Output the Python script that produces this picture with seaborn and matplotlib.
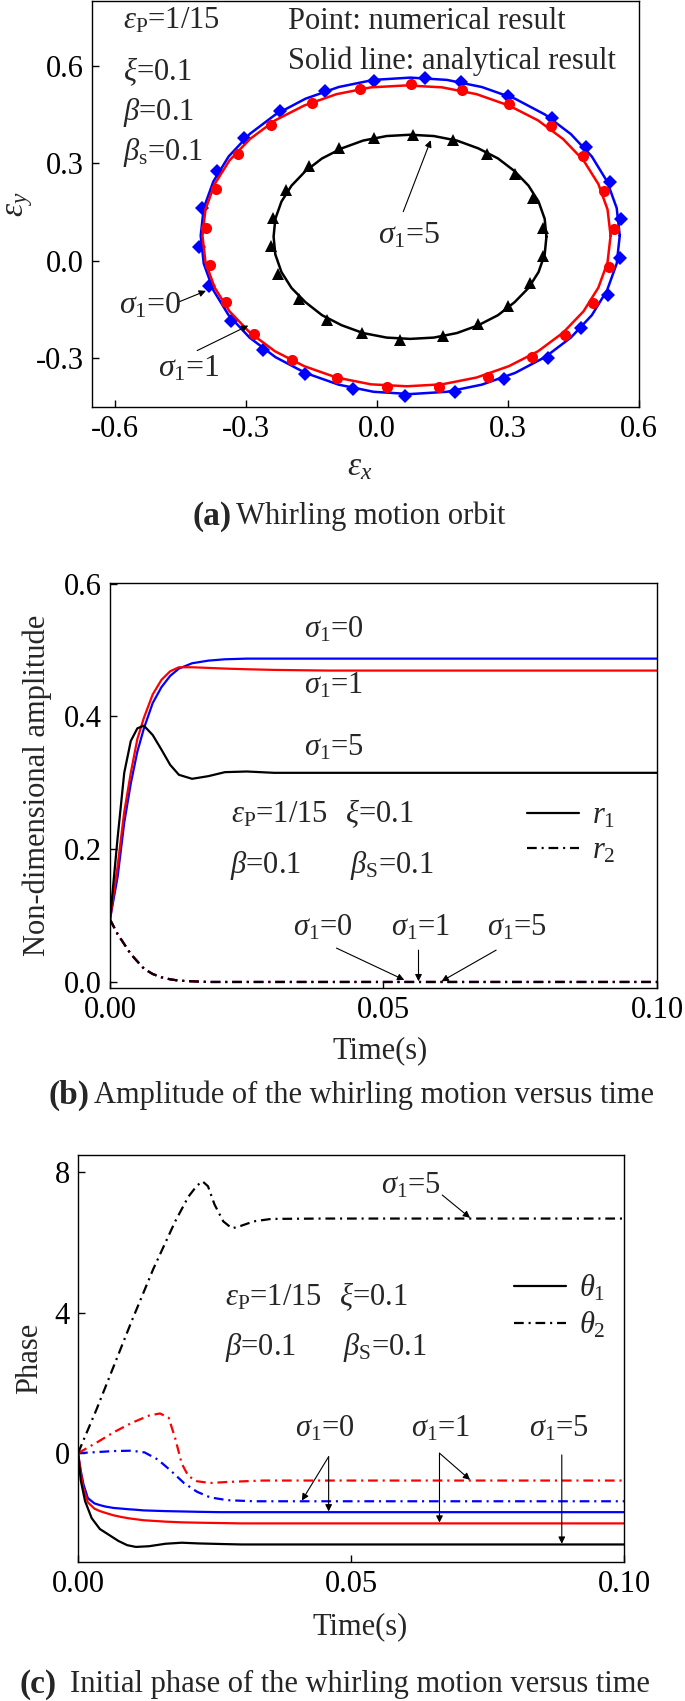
import numpy as np
import pandas as pd
import matplotlib
matplotlib.use("Agg")
import matplotlib.pyplot as plt
from matplotlib.lines import Line2D
import seaborn as sns

# ---------------- data ----------------
# (a) orbit, numerical points (epsilon_x, epsilon_y)
orbit0_x = [0.110, 0.193, 0.301, 0.401, 0.478, 0.533, 0.558, 0.556, 0.528, 0.468, 0.391, 0.291, 0.178,
            0.063, -0.055, -0.165, -0.262, -0.335, -0.384, -0.407, -0.402, -0.367, -0.305, -0.222, -0.120, -0.007]
orbit0_y = [0.564, 0.552, 0.507, 0.441, 0.350, 0.243, 0.127, 0.009, -0.106, -0.208, -0.300, -0.364, -0.405,
            -0.418, -0.395, -0.348, -0.275, -0.185, -0.077, 0.043, 0.161, 0.276, 0.378, 0.460, 0.523, 0.555]
orbit1_x = [0.078, 0.195, 0.303, 0.398, 0.471, 0.520, 0.543, 0.531, 0.495, 0.430, 0.356, 0.255, 0.141,
            0.023, -0.092, -0.195, -0.282, -0.345, -0.382, -0.392, -0.369, -0.319, -0.244, -0.149, -0.039]
orbit1_y = [0.543, 0.527, 0.484, 0.414, 0.323, 0.215, 0.097, -0.018, -0.131, -0.230, -0.298, -0.357, -0.389,
            -0.390, -0.362, -0.307, -0.226, -0.126, -0.013, 0.102, 0.220, 0.328, 0.419, 0.487, 0.530]
orbit5_x = [0.083, 0.173, 0.251, 0.315, 0.358, 0.381, 0.381, 0.351, 0.300, 0.231, 0.150, 0.053, -0.034,
            -0.114, -0.179, -0.226, -0.244, -0.239, -0.209, -0.157, -0.087, -0.007]
orbit5_y = [0.386, 0.371, 0.330, 0.268, 0.192, 0.102, 0.014, -0.068, -0.141, -0.196, -0.232, -0.244, -0.223,
            -0.182, -0.119, -0.042, 0.045, 0.133, 0.219, 0.292, 0.347, 0.378]

# (a) orbit, analytical lines (traced round the outline)
line0_x = [0.556, 0.549, 0.527, 0.492, 0.444, 0.385, 0.316, 0.240, 0.160, 0.076,
           -0.008, -0.088, -0.164, -0.233, -0.292, -0.340, -0.375, -0.397, -0.404,
           -0.397, -0.375, -0.340, -0.292, -0.233, -0.164, -0.088, -0.008, 0.076,
           0.160, 0.240, 0.316, 0.385, 0.444, 0.492, 0.527, 0.549, 0.556]
line0_y = [0.077, 0.162, 0.244, 0.321, 0.390, 0.450, 0.499, 0.535, 0.557, 0.564,
           0.557, 0.535, 0.499, 0.450, 0.390, 0.321, 0.244, 0.162, 0.077,
           -0.009, -0.091, -0.168, -0.237, -0.297, -0.346, -0.382, -0.404, -0.411,
           -0.404, -0.382, -0.346, -0.297, -0.237, -0.168, -0.091, -0.009, 0.077]
line1_x = [0.535, 0.528, 0.507, 0.473, 0.426, 0.369, 0.302, 0.228, 0.149, 0.068,
           -0.014, -0.093, -0.167, -0.234, -0.291, -0.338, -0.372, -0.393, -0.400,
           -0.393, -0.372, -0.338, -0.291, -0.234, -0.167, -0.093, -0.014, 0.068,
           0.149, 0.228, 0.302, 0.369, 0.426, 0.473, 0.507, 0.528, 0.535]
line1_y = [0.077, 0.158, 0.236, 0.309, 0.375, 0.432, 0.478, 0.513, 0.534, 0.540,
           0.534, 0.513, 0.478, 0.432, 0.375, 0.309, 0.236, 0.158, 0.077,
           -0.005, -0.083, -0.156, -0.222, -0.279, -0.325, -0.360, -0.381, -0.387,
           -0.381, -0.360, -0.325, -0.279, -0.222, -0.156, -0.083, -0.005, 0.077]
line5_x = [0.388, 0.384, 0.370, 0.347, 0.315, 0.277, 0.232, 0.183, 0.130, 0.076,
           0.022, -0.032, -0.081, -0.126, -0.164, -0.196, -0.219, -0.233, -0.237,
           -0.233, -0.219, -0.196, -0.164, -0.126, -0.081, -0.032, 0.022, 0.076,
           0.130, 0.183, 0.232, 0.277, 0.315, 0.347, 0.370, 0.384, 0.388]
line5_y = [0.074, 0.129, 0.182, 0.231, 0.276, 0.315, 0.346, 0.370, 0.384, 0.388,
           0.384, 0.370, 0.346, 0.315, 0.276, 0.231, 0.182, 0.129, 0.074,
           0.019, -0.035, -0.084, -0.128, -0.168, -0.199, -0.223, -0.237, -0.241,
           -0.237, -0.223, -0.199, -0.168, -0.128, -0.084, -0.035, 0.019, 0.074]

# (b) amplitude versus time
t_r = [0, 0.0014, 0.0026, 0.0038, 0.005, 0.0062, 0.0078, 0.0094, 0.011, 0.0126, 0.015, 0.018, 0.021,
       0.025, 0.03, 0.04, 0.06, 0.08, 0.1]
r1_s0 = [0.094, 0.159, 0.240, 0.299, 0.347, 0.382, 0.420, 0.444, 0.461, 0.472, 0.480, 0.484, 0.486,
         0.487, 0.487, 0.487, 0.487, 0.487, 0.487]
r1_s1 = [0.094, 0.175, 0.256, 0.315, 0.366, 0.398, 0.433, 0.455, 0.468, 0.474, 0.474, 0.473, 0.472,
         0.471, 0.470, 0.469, 0.469, 0.469, 0.469]
r1_s5 = [0.094, 0.218, 0.315, 0.363, 0.382, 0.386, 0.372, 0.350, 0.327, 0.312, 0.306, 0.310, 0.316,
         0.317, 0.315, 0.315, 0.315, 0.315, 0.315]
r2_all = [0.094, 0.072, 0.057, 0.042, 0.031, 0.020, 0.012, 0.007, 0.004, 0.002, 0.001, 0.0, 0.0,
          0.0, 0.0, 0.0, 0.0, 0.0, 0.0]

# (c) phase versus time
t_th1 = [0, 0.0005, 0.001, 0.0018, 0.003, 0.004, 0.005, 0.0065, 0.008, 0.0095, 0.0105, 0.012, 0.014,
         0.016, 0.019, 0.022, 0.026, 0.03, 0.04, 0.06, 0.1]
th1_s0 = [0, -0.50, -0.89, -1.28, -1.43, -1.48, -1.52, -1.56, -1.58, -1.60, -1.61, -1.63, -1.64,
          -1.65, -1.66, -1.67, -1.68, -1.68, -1.68, -1.68, -1.68]
th1_s1 = [0, -0.55, -1.01, -1.40, -1.58, -1.65, -1.70, -1.77, -1.82, -1.86, -1.88, -1.91, -1.93,
          -1.95, -1.97, -1.98, -1.99, -2.00, -2.00, -2.00, -2.00]
t_th1_5 = [0, 0.0005, 0.001, 0.0013, 0.0025, 0.004, 0.0058, 0.0074, 0.009, 0.0106, 0.013, 0.016, 0.019,
           0.022, 0.027, 0.03, 0.04, 0.06, 0.1]
th1_s5 = [0, -0.77, -1.15, -1.37, -1.85, -2.16, -2.34, -2.50, -2.62, -2.67, -2.65, -2.58, -2.55,
          -2.57, -2.59, -2.60, -2.60, -2.60, -2.60]

t_th2_5 = [0, 0.0034, 0.0066, 0.0098, 0.0138, 0.0178, 0.0202, 0.0218, 0.0228, 0.0238, 0.025, 0.0266,
           0.0282, 0.0298, 0.0322, 0.0354, 0.045, 0.1]
th2_s5 = [0, 1.25, 2.50, 3.75, 5.25, 6.60, 7.30, 7.62, 7.74, 7.60, 7.08, 6.60, 6.40, 6.47, 6.60, 6.67,
          6.68, 6.68]
t_th2_1 = [0, 0.0034, 0.0066, 0.0098, 0.013, 0.015, 0.0166, 0.0178, 0.019, 0.0202, 0.0218, 0.0242,
           0.0274, 0.0338, 0.0418, 0.1]
th2_s1 = [0, 0.30, 0.60, 0.86, 1.07, 1.13, 1.01, 0.42, -0.30, -0.65, -0.80, -0.85, -0.82, -0.78,
          -0.78, -0.78]
t_th2_0 = [0, 0.0034, 0.0066, 0.0098, 0.0122, 0.0146, 0.017, 0.0194, 0.0218, 0.0242, 0.0274, 0.0322, 0.1]
th2_s0 = [0, 0.03, 0.06, 0.07, 0.02, -0.18, -0.50, -0.85, -1.10, -1.26, -1.34, -1.37, -1.37]

# ---------------- style ----------------
sns.set_theme(style="ticks")
plt.rcParams["font.family"] = ["Liberation Serif", "DejaVu Serif"]
plt.rcParams["mathtext.fontset"] = "custom"
plt.rcParams["mathtext.rm"] = "Liberation Serif"
plt.rcParams["mathtext.it"] = "Liberation Serif:italic"
plt.rcParams["mathtext.bf"] = "Liberation Serif:bold"
plt.rcParams["lines.scale_dashes"] = False
FS = 22      # ticks, axis labels, captions
FT = 22      # annotations
DASHDOT = (0, (7, 3.5, 1.5, 3.5))

fig = plt.figure(figsize=(6.85, 17.01), dpi=100)


def style_axes(ax):
    for s in ax.spines.values():
        s.set_color("black")
        s.set_linewidth(1.0)
    ax.tick_params(direction="in", length=5, width=1, labelsize=FS, pad=6,
                   top=False, right=False, colors="black")
    ax.grid(False)


def txt(ax, x, y, s, size=FT):
    ax.text(x, y, s, fontsize=size, va="baseline", ha="left")


def arrow(ax, tail, head):
    ax.annotate("", xy=head, xytext=tail,
                arrowprops=dict(arrowstyle="-|>", color="black", lw=0.8,
                                mutation_scale=10, shrinkA=0, shrinkB=0))


# ---------------- (a) orbit ----------------
ax1 = fig.add_axes([0.1343, 0.7607, 0.7985, 0.2387])
orbits = [(line0_x, line0_y, orbit0_x, orbit0_y, "blue", "D", 7),
          (line1_x, line1_y, orbit1_x, orbit1_y, "red", "o", 8),
          (line5_x, line5_y, orbit5_x, orbit5_y, "black", "^", 9)]
for lx, ly, xs, ys, c, m, ms in orbits:
    line_df = pd.DataFrame({"x": lx, "y": ly})
    sns.lineplot(data=line_df, x="x", y="y", sort=False, estimator=None, color=c, lw=1.8, ax=ax1)
    ax1.plot(xs, ys, linestyle="none", marker=m, color=c, markersize=ms, markeredgewidth=0)
ax1.set_xlim(-0.653, 0.6)
ax1.set_ylim(-0.451, 0.80)
ax1.set_xticks([-0.6, -0.3, 0.0, 0.3, 0.6])
ax1.set_yticks([-0.3, 0.0, 0.3, 0.6])
ax1.set_xticklabels(["-0.6", "-0.3", "0.0", "0.3", "0.6"])
ax1.set_yticklabels(["-0.3", "0.0", "0.3", "0.6"])
style_axes(ax1)
ax1.set_xlabel(r"$\varepsilon_x$", fontsize=FS + 2)
ax1.set_ylabel(r"$\varepsilon_y$", fontsize=FS + 2)
ax1.xaxis.set_label_coords(0.49, -0.148)
ax1.xaxis.label.set_va("center")
ax1.yaxis.set_label_coords(-0.132, 0.5)
ax1.yaxis.label.set_va("center")

txt(ax1, -0.582, 0.714, r"$\varepsilon_\mathrm{P}$=1/15")
txt(ax1, -0.582, 0.555, r"$\xi$=0.1")
txt(ax1, -0.582, 0.432, r"$\beta$=0.1")
txt(ax1, -0.582, 0.309, r"$\beta_\mathrm{s}$=0.1")
txt(ax1, -0.205, 0.714, "Point: numerical result")
txt(ax1, -0.205, 0.591, "Solid line: analytical result")
txt(ax1, 0.003, 0.053, r"$\sigma_1$=5", FT + 1)
txt(ax1, -0.592, -0.162, r"$\sigma_1$=0", FT + 1)
txt(ax1, -0.502, -0.357, r"$\sigma_1$=1", FT + 1)
arrow(ax1, (0.060, 0.151), (0.123, 0.371))
arrow(ax1, (-0.452, -0.126), (-0.392, -0.093))
arrow(ax1, (-0.412, -0.277), (-0.295, -0.200))

fig.text(232 / 685, 1 - 516 / 1701, "(a)", fontsize=FS + 2, weight="bold", ha="right", va="center")
fig.text(236 / 685, 1 - 516 / 1701, "Whirling motion orbit", fontsize=FS, ha="left", va="center")

# ---------------- (b) amplitude ----------------
ax2 = fig.add_axes([0.1606, 0.4192, 0.7985, 0.2381])
for ys, c in [(r1_s0, "blue"), (r1_s1, "red"), (r1_s5, "black")]:
    sns.lineplot(x=t_r, y=ys, color=c, lw=1.6, ax=ax2)
for c in ["blue", "red", "black"]:
    ax2.plot(t_r, r2_all, color=c, lw=1.6, linestyle=DASHDOT)
ax2.set_xlim(0, 0.1)
ax2.set_ylim(-0.009, 0.601)
ax2.set_xticks([0.0, 0.05, 0.1])
ax2.set_xticklabels(["0.00", "0.05", "0.10"])
ax2.set_yticks([0.0, 0.2, 0.4, 0.6])
ax2.set_yticklabels(["0.0", "0.2", "0.4", "0.6"])
style_axes(ax2)
ax2.set_xlabel("Time(s)", fontsize=FS)
ax2.set_ylabel("Non-dimensional amplitude", fontsize=FS)
ax2.xaxis.set_label_coords(0.494, -0.156)
ax2.xaxis.label.set_va("center")
ax2.yaxis.set_label_coords(-0.133, 0.5)
ax2.yaxis.label.set_va("center")

txt(ax2, 0.0355, 0.519, r"$\sigma_1$=0")
txt(ax2, 0.0355, 0.434, r"$\sigma_1$=1")
txt(ax2, 0.0355, 0.341, r"$\sigma_1$=5")
txt(ax2, 0.0222, 0.240, r"$\varepsilon_\mathrm{P}$=1/15")
txt(ax2, 0.0430, 0.240, r"$\xi$=0.1")
txt(ax2, 0.0219, 0.164, r"$\beta$=0.1")
txt(ax2, 0.0438, 0.164, r"$\beta_\mathrm{S}$=0.1")
txt(ax2, 0.0335, 0.070, r"$\sigma_1$=0")
txt(ax2, 0.0514, 0.070, r"$\sigma_1$=1")
txt(ax2, 0.0690, 0.070, r"$\sigma_1$=5")
arrow(ax2, (0.0414, 0.051), (0.0538, 0.003))
arrow(ax2, (0.0564, 0.048), (0.0564, 0.001))
arrow(ax2, (0.0706, 0.048), (0.0606, 0.001))
h_b = [Line2D([], [], color="black", lw=1.6), Line2D([], [], color="black", lw=1.6, linestyle=DASHDOT)]
ax2.legend(h_b, [r"$r_1$", r"$r_2$"], loc="center left", bbox_to_anchor=(0.0762, 0.2235),
           bbox_transform=ax2.transData, frameon=False, fontsize=FT, borderpad=0,
           borderaxespad=0, handlelength=1.7, handletextpad=0.45, labelspacing=0.22)

fig.text(90 / 685, 1 - 1095 / 1701, "(b)", fontsize=FS + 2, weight="bold", ha="right", va="center")
fig.text(94 / 685, 1 - 1095 / 1701, "Amplitude of the whirling motion versus time", fontsize=FS,
         ha="left", va="center")

# ---------------- (c) phase ----------------
ax3 = fig.add_axes([0.1139, 0.0817, 0.7971, 0.2393])
sns.lineplot(x=t_th1, y=th1_s0, color="blue", lw=1.6, ax=ax3)
sns.lineplot(x=t_th1, y=th1_s1, color="red", lw=1.6, ax=ax3)
sns.lineplot(x=t_th1_5, y=th1_s5, color="black", lw=1.6, ax=ax3)
ax3.plot(t_th2_0, th2_s0, color="blue", lw=1.6, linestyle=DASHDOT)
ax3.plot(t_th2_1, th2_s1, color="red", lw=1.6, linestyle=DASHDOT)
ax3.plot(t_th2_5, th2_s5, color="black", lw=1.6, linestyle=DASHDOT)
ax3.set_xlim(0, 0.1)
ax3.set_ylim(-3.1, 8.49)
ax3.set_xticks([0.0, 0.05, 0.1])
ax3.set_xticklabels(["0.00", "0.05", "0.10"])
ax3.set_yticks([0, 4, 8])
ax3.set_yticklabels(["0", "4", "8"])
style_axes(ax3)
ax3.set_xlabel("Time(s)", fontsize=FS)
ax3.set_ylabel("Phase", fontsize=FS)
ax3.xaxis.set_label_coords(0.516, -0.16)
ax3.xaxis.label.set_va("center")
ax3.yaxis.set_label_coords(-0.088, 0.5)
ax3.yaxis.label.set_va("center")

txt(ax3, 0.0554, 7.38, r"$\sigma_1$=5")
txt(ax3, 0.0398, 0.48, r"$\sigma_1$=0")
txt(ax3, 0.0610, 0.48, r"$\sigma_1$=1")
txt(ax3, 0.0826, 0.48, r"$\sigma_1$=5")
txt(ax3, 0.0270, 4.20, r"$\varepsilon_\mathrm{P}$=1/15")
txt(ax3, 0.0478, 4.20, r"$\xi$=0.1")
txt(ax3, 0.0270, 2.80, r"$\beta$=0.1")
txt(ax3, 0.0486, 2.80, r"$\beta_\mathrm{S}$=0.1")
arrow(ax3, (0.0667, 7.35), (0.0718, 6.70))
arrow(ax3, (0.0459, -0.10), (0.0410, -1.35))
arrow(ax3, (0.0459, -0.10), (0.0459, -1.66))
arrow(ax3, (0.0662, 0.00), (0.0718, -0.76))
arrow(ax3, (0.0662, 0.00), (0.0662, -1.98))
arrow(ax3, (0.0886, -0.05), (0.0886, -2.58))
h_c = [Line2D([], [], color="black", lw=1.6), Line2D([], [], color="black", lw=1.6, linestyle=DASHDOT)]
ax3.legend(h_c, [r"$\theta_1$", r"$\theta_2$"], loc="center left", bbox_to_anchor=(0.0798, 4.17),
           bbox_transform=ax3.transData, frameon=False, fontsize=FT, borderpad=0,
           borderaxespad=0, handlelength=1.7, handletextpad=0.45, labelspacing=0.22)

fig.text(57 / 685, 1 - 1684 / 1701, "(c)", fontsize=FS + 2, weight="bold", ha="right", va="center")
fig.text(70 / 685, 1 - 1684 / 1701, "Initial phase of the whirling motion versus time", fontsize=FS,
         ha="left", va="center")

fig.savefig("out.png", dpi=100)
